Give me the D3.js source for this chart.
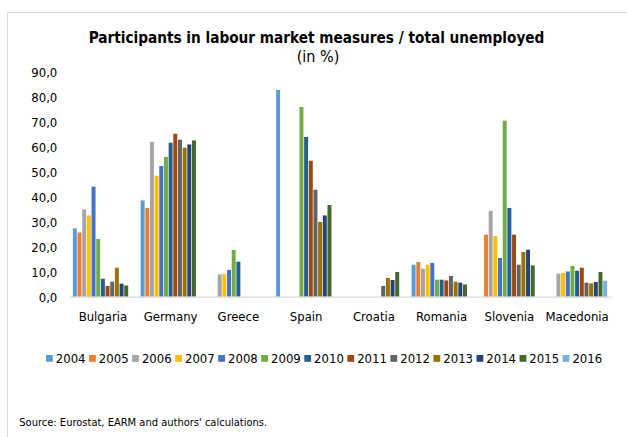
<!DOCTYPE html>
<html><head><meta charset="utf-8">
<script src="https://d3js.org/d3.v7.min.js"></script>
<style>
html,body{margin:0;padding:0;background:#fff;}
svg{display:block;}
text{font-family:"DejaVu Sans Condensed","DejaVu Sans",sans-serif;fill:#000;}
</style></head>
<body>
<svg id="chart" width="627" height="437"></svg>
<script>
const countries = ["Bulgaria","Germany","Greece","Spain","Croatia","Romania","Slovenia","Macedonia"];
const years = ["2004","2005","2006","2007","2008","2009","2010","2011","2012","2013","2014","2015","2016"];
const yTicks = [0,10,20,30,40,50,60,70,80,90];
const s2004 = [27.3, 38.5, null, 82.7, null, 12.8, null, null];
const s2005 = [25.7, 35.5, null, null, null, 13.9, 24.8, null];
const s2006 = [34.9, 61.9, 8.9, null, null, 11.2, 34.3, 9.2];
const s2007 = [32.5, 48.4, 9.0, null, null, 12.8, 24.3, 9.5];
const s2008 = [44.0, 52.3, 10.7, null, null, 13.5, 15.5, 10.1];
const s2009 = [23.1, 55.9, 18.7, 75.9, null, 6.8, 70.4, 12.3];
const s2010 = [7.2, 61.6, 14.0, 63.9, null, 6.8, 35.5, 10.4];
const s2011 = [4.3, 65.2, null, 54.4, null, 6.5, 24.8, 11.6];
const s2012 = [6.0, 62.8, null, 42.8, 4.3, 8.3, 12.8, 5.6];
const s2013 = [11.6, 59.6, null, 29.9, 7.5, 6.0, 17.9, 5.3];
const s2014 = [5.2, 60.9, null, 32.5, 6.7, 5.6, 18.8, 5.9];
const s2015 = [4.5, 62.5, null, 36.7, 9.9, 4.9, 12.5, 9.9];
const s2016 = [null, null, null, null, null, null, null, 6.4];
const colors = ["#5B9BD5","#ED7D31","#A5A5A5","#FFC000","#4472C4","#70AD47","#255E91","#9E480E","#636363","#997300","#264478","#43682B","#7CAFDD"];

const series = [s2004,s2005,s2006,s2007,s2008,s2009,s2010,s2011,s2012,s2013,s2014,s2015,s2016];
const svg = d3.select("#chart");

// chart area border (left & top)
svg.append("path").attr("d","M7.5,437 V12.5 H627").attr("fill","none").attr("stroke","#d9d9d9").attr("stroke-width",1);

function fit(sel, w){
  const n = sel.node(); const cur = n.getComputedTextLength();
  const fs = parseFloat(sel.attr("font-size"));
  sel.attr("font-size", (fs*w/cur).toFixed(2));
}

const t = svg.append("text").attr("x",316.5).attr("y",43).attr("text-anchor","middle")
  .attr("font-size",15).attr("font-weight","bold").text("Participants in labour market measures / total unemployed");
fit(t,456);
svg.append("text").attr("x",318).attr("y",62).attr("text-anchor","middle")
  .attr("font-size",16).text("(in %)");

const x0 = d3.scaleBand().domain(countries).range([69,611]).paddingInner(0.104).paddingOuter(0.052);
const x1 = d3.scaleBand().domain(years).range([0,x0.bandwidth()]);
const y = d3.scaleLinear().domain([0,90]).range([296.7,71.7]);

// y tick labels
const fmt = v => d3.format(".1f")(v).replace(".",",");
const yAxis = d3.axisLeft(y).tickValues(yTicks).tickFormat(fmt).tickSize(0).tickPadding(0);
const yg = svg.append("g").attr("transform","translate(57.3,0)").call(yAxis);
yg.select(".domain").remove();
yg.selectAll("text").attr("font-size",13).attr("font-family",'"DejaVu Sans Condensed","DejaVu Sans",sans-serif').attr("fill","#000").attr("dy","0.35em");

// bars
const groups = svg.append("g").selectAll("g").data(countries).join("g")
  .attr("transform", d => `translate(${x0(d)},0)`);
groups.selectAll("rect").data((c,ci) => years.map((yr,yi) => ({yr, yi, v: series[yi][ci]})).filter(d => d.v != null))
  .join("rect")
  .attr("x", d => x1(d.yr)+0.35)
  .attr("width", x1.bandwidth()-0.7)
  .attr("y", d => y(d.v))
  .attr("height", d => y(0)-y(d.v))
  .attr("fill", d => colors[d.yi]);

// x axis line & labels
const xAxis = d3.axisBottom(x0).tickSize(0).tickPadding(0);
const xg = svg.append("g").attr("transform",`translate(0,${y(0)})`).call(xAxis);
xg.select(".domain").attr("stroke","#d9d9d9").attr("stroke-width",1.3);
xg.selectAll("text").attr("font-size",13).attr("font-family",'"DejaVu Sans Condensed","DejaVu Sans",sans-serif').attr("fill","#000").attr("dy",null).attr("y",24);

// legend
const lg = svg.append("g").selectAll("g").data(years).join("g")
  .attr("transform",(d,i)=>`translate(${46+i*43.05},0)`);
lg.append("rect").attr("x",0).attr("y",355).attr("width",6.8).attr("height",6.8).attr("fill",(d,i)=>colors[i]);
lg.append("text").attr("x",9.8).attr("y",363.3).attr("font-size",13).text(d=>d);

const src = svg.append("text").attr("x",19.3).attr("y",425.5).attr("font-size",11).text("Source: Eurostat, EARM and authors' calculations.");
fit(src,248);
</script>
</body></html>
